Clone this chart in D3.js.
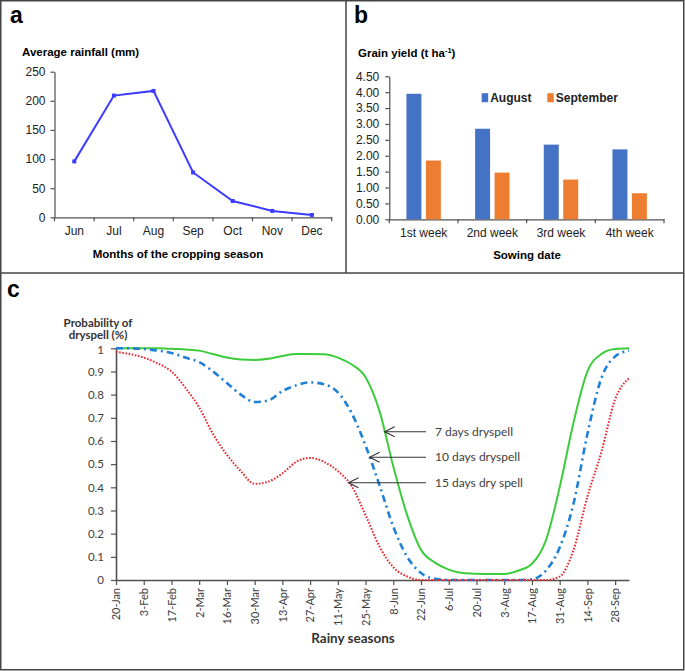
<!DOCTYPE html>
<html>
<head>
<meta charset="utf-8">
<script src="https://cdn.jsdelivr.net/npm/d3@7"></script>
<style>
  body { margin: 0; background: #fff; }
  svg { display: block; }
</style>
</head>
<body>
<div id="chart"></div>
<script>
// a: rainfall per month
const months = ["Jun", "Jul", "Aug", "Sep", "Oct", "Nov", "Dec"];
const rainfall = [96, 209, 217, 77, 28, 11, 4];

// b: grain yield by sowing week
const weeks = ["1st week", "2nd week", "3rd week", "4th week"];
const sowingMonths = ["August", "September"];
const yieldAugust = [3.95, 2.85, 2.35, 2.2];
const yieldSeptember = [1.85, 1.47, 1.25, 0.82];

// c: dry spell probability, weekly readings
const seasonDates = ["2020-01-20", "2020-01-27", "2020-02-03", "2020-02-10", "2020-02-17", "2020-02-24",
  "2020-03-02", "2020-03-09", "2020-03-16", "2020-03-23", "2020-03-30", "2020-04-06", "2020-04-13",
  "2020-04-20", "2020-04-27", "2020-05-04", "2020-05-11", "2020-05-18", "2020-05-25", "2020-06-01",
  "2020-06-08", "2020-06-15", "2020-06-22", "2020-06-29", "2020-07-06", "2020-07-13", "2020-07-20",
  "2020-07-27", "2020-08-03", "2020-08-10", "2020-08-17", "2020-08-24", "2020-08-31", "2020-09-07",
  "2020-09-14", "2020-09-21", "2020-09-28", "2020-10-05"];
const dry7 = [1.0, 1.0, 1.0, 1.0, 0.998, 0.995, 0.99, 0.975, 0.96, 0.952, 0.95, 0.955, 0.967, 0.975,
  0.975, 0.974, 0.96, 0.93, 0.875, 0.73, 0.49, 0.28, 0.13, 0.075, 0.045, 0.03, 0.027, 0.026, 0.026,
  0.04, 0.07, 0.17, 0.4, 0.68, 0.9, 0.975, 0.997, 1.0];
const dry10 = [1.0, 1.0, 0.997, 0.99, 0.98, 0.96, 0.94, 0.9, 0.85, 0.8, 0.768, 0.775, 0.815, 0.84,
  0.853, 0.845, 0.81, 0.72, 0.58, 0.41, 0.23, 0.1, 0.03, 0.005, 0, 0, 0, 0, 0, 0, 0.003, 0.04, 0.14,
  0.33, 0.63, 0.87, 0.965, 0.99];
const dry15 = [0.985, 0.975, 0.96, 0.935, 0.9, 0.83, 0.745, 0.63, 0.54, 0.47, 0.415, 0.425, 0.46,
  0.51, 0.527, 0.51, 0.47, 0.405, 0.28, 0.145, 0.055, 0.015, 0, 0, 0, 0, 0, 0, 0, 0, 0, 0, 0.015,
  0.13, 0.36, 0.55, 0.78, 0.87];
const spellLabels = ["7 days dryspell", "10 days dryspell", "15 days dry spell"];
const arrowLevels = [0.64, 0.53, 0.42];

const width = 685, height = 671;
const arial = "'Liberation Sans', Arial, sans-serif";
const calib = "Lato, 'Open Sans', sans-serif";
const axisCol = "#505050";

const svg = d3.select("#chart").append("svg")
  .attr("width", width)
  .attr("height", height);

// frame + dividers
svg.append("rect")
  .attr("x", 0.75).attr("y", 0.75)
  .attr("width", 683).attr("height", 669)
  .attr("fill", "none").attr("stroke", "#444").attr("stroke-width", 1.5);
svg.append("line").attr("x1", 346).attr("x2", 346).attr("y1", 0).attr("y2", 273)
  .attr("stroke", "#444").attr("stroke-width", 1.5);
svg.append("line").attr("x1", 0).attr("x2", 684).attr("y1", 273).attr("y2", 273)
  .attr("stroke", "#444").attr("stroke-width", 1.5);

function styleAxis(g, font, size, col) {
  g.select(".domain").attr("stroke", axisCol).attr("stroke-width", 1.2);
  g.selectAll(".tick line").attr("stroke", axisCol).attr("stroke-width", 1.2);
  g.selectAll("text").attr("font-family", font).attr("font-size", size).attr("fill", col);
}

// ---------- panel a ----------
const xa = d3.scaleBand().domain(months).range([54.5, 331.7]);
const ya = d3.scaleLinear().domain([0, 250]).range([217.3, 71.7]);

svg.append("text").attr("x", 10).attr("y", 23).text("a")
  .attr("font-family", arial).attr("font-weight", "bold").attr("font-size", 23);
svg.append("text").attr("x", 22).attr("y", 56).text("Average rainfall (mm)")
  .attr("font-family", arial).attr("font-weight", "bold").attr("font-size", 11.5);

const gya = svg.append("g").attr("transform", "translate(54.5,0)")
  .call(d3.axisLeft(ya).tickValues(d3.range(0, 251, 50)).tickSize(4).tickSizeOuter(0).tickPadding(5));
styleAxis(gya, arial, 12, "#222");

const gxa = svg.append("g").attr("transform", "translate(0,217.3)")
  .call(d3.axisBottom(xa).tickSize(0).tickPadding(9));
styleAxis(gxa, arial, 12, "#222");
gxa.selectAll(".edge")
  .data(months.map(m => xa(m)).concat(xa.range()[1]))
  .join("line").attr("class", "edge")
  .attr("x1", d => d).attr("x2", d => d).attr("y1", 0).attr("y2", 4)
  .attr("stroke", axisCol).attr("stroke-width", 1.2);

const lineA = d3.line()
  .x((d, i) => xa(months[i]) + xa.bandwidth() / 2)
  .y(d => ya(d));
svg.append("path").datum(rainfall)
  .attr("d", lineA)
  .attr("fill", "none").attr("stroke", "#3b3bff").attr("stroke-width", 2);
svg.append("g").selectAll("rect")
  .data(rainfall)
  .join("rect")
  .attr("x", (d, i) => xa(months[i]) + xa.bandwidth() / 2 - 2)
  .attr("y", d => ya(d) - 2)
  .attr("width", 4).attr("height", 4)
  .attr("fill", "#3b3bff");

svg.append("text").attr("x", 178).attr("y", 258).attr("text-anchor", "middle")
  .text("Months of the cropping season")
  .attr("font-family", arial).attr("font-weight", "bold").attr("font-size", 11.5);

// ---------- panel b ----------
const xb = d3.scaleBand().domain(weeks).range([389.3, 664]);
const xb1 = d3.scaleBand().domain(sowingMonths).range([0, xb.bandwidth()])
  .paddingInner(0.23).paddingOuter(0.88);
const yb = d3.scaleLinear().domain([0, 4.5]).range([219.3, 76.3]);
const barCol = d3.scaleOrdinal().domain(sowingMonths).range(["#4472c4", "#ed7d31"]);

svg.append("text").attr("x", 354).attr("y", 23).text("b")
  .attr("font-family", arial).attr("font-weight", "bold").attr("font-size", 23);
const tb = svg.append("text").attr("x", 358).attr("y", 57)
  .attr("font-family", arial).attr("font-weight", "bold").attr("font-size", 11.5);
tb.append("tspan").text("Grain yield (t ha");
tb.append("tspan").text("-1").attr("font-size", 7.5).attr("dy", -4);
tb.append("tspan").text(")").attr("dy", 4);

const gyb = svg.append("g").attr("transform", "translate(389.3,0)")
  .call(d3.axisLeft(yb).tickValues(d3.range(0, 4.51, 0.5)).tickFormat(d3.format(".2f"))
    .tickSize(4).tickSizeOuter(0).tickPadding(6));
styleAxis(gyb, arial, 12, "#222");

const gxb = svg.append("g").attr("transform", "translate(0,219.3)")
  .call(d3.axisBottom(xb).tickSize(0).tickPadding(9));
styleAxis(gxb, arial, 12, "#222");
gxb.selectAll(".edge")
  .data(weeks.map(w => xb(w)).concat(xb.range()[1]))
  .join("line").attr("class", "edge")
  .attr("x1", d => d).attr("x2", d => d).attr("y1", 0).attr("y2", 4)
  .attr("stroke", axisCol).attr("stroke-width", 1.2);

const barRows = weeks.map((w, i) => ({ week: w, values: [yieldAugust[i], yieldSeptember[i]] }));
svg.append("g").selectAll("g")
  .data(barRows)
  .join("g")
  .attr("transform", d => `translate(${xb(d.week)},0)`)
  .selectAll("rect")
  .data(d => d.values.map((v, j) => ({ m: sowingMonths[j], v })))
  .join("rect")
  .attr("x", d => xb1(d.m))
  .attr("width", xb1.bandwidth())
  .attr("y", d => yb(d.v))
  .attr("height", d => yb(0) - yb(d.v))
  .attr("fill", d => barCol(d.m));

const legB = svg.append("g").selectAll("g")
  .data(sowingMonths)
  .join("g")
  .attr("transform", (d, i) => `translate(${[481.7, 547.3][i]},97.7)`);
legB.append("rect").attr("x", 0).attr("y", -4.5).attr("width", 6.5).attr("height", 9)
  .attr("fill", d => barCol(d));
legB.append("text").attr("x", 8.5).attr("y", 4.3).text(d => d)
  .attr("font-family", arial).attr("font-weight", "bold").attr("font-size", 12).attr("fill", "#222");

svg.append("text").attr("x", 527).attr("y", 259).attr("text-anchor", "middle")
  .text("Sowing date")
  .attr("font-family", arial).attr("font-weight", "bold").attr("font-size", 11.5);

// ---------- panel c ----------
const parseDate = d3.timeParse("%Y-%m-%d");
const datesC = seasonDates.map(parseDate);
const xc = d3.scaleTime().domain([datesC[0], datesC[datesC.length - 1]]).range([116, 629]);
const yc = d3.scaleLinear().domain([0, 1]).range([580, 348.3]);

svg.append("text").attr("x", 7).attr("y", 297).text("c")
  .attr("font-family", arial).attr("font-weight", "bold").attr("font-size", 23);
svg.append("text").attr("x", 98).attr("y", 327).attr("text-anchor", "middle").text("Probability of")
  .attr("font-family", calib).attr("font-weight", "bold").attr("font-size", 11.5).attr("fill", "#333");
svg.append("text").attr("x", 98).attr("y", 339).attr("text-anchor", "middle").text("dryspell (%)")
  .attr("font-family", calib).attr("font-weight", "bold").attr("font-size", 11.5).attr("fill", "#333");

const gyc = svg.append("g").attr("transform", "translate(116,0)")
  .call(d3.axisLeft(yc).ticks(10).tickFormat(d => (d === 0 || d === 1) ? d : d.toFixed(1))
    .tickSize(5).tickSizeOuter(0).tickPadding(7));
styleAxis(gyc, calib, 11.5, "#404040");
gyc.select(".domain").attr("stroke-width", 1.6);
gyc.selectAll(".tick text").filter(d => d === 1).attr("dy", "0.45em");

const gxc = svg.append("g").attr("transform", "translate(0,580)")
  .call(d3.axisBottom(xc).tickValues(datesC.filter((d, i) => i % 2 === 0 && i < 37))
    .tickFormat(d3.timeFormat("%-d-%b")).tickSize(5).tickSizeOuter(0));
styleAxis(gxc, calib, 11, "#404040");
gxc.select(".domain").attr("stroke-width", 1.6);
gxc.selectAll(".tick text")
  .attr("transform", "rotate(-90)")
  .attr("text-anchor", "end")
  .attr("x", -8).attr("y", 0).attr("dy", "0.35em");

svg.append("text").attr("x", 353).attr("y", 642.5).attr("text-anchor", "middle").text("Rainy seasons")
  .attr("font-family", calib).attr("font-weight", "bold").attr("font-size", 13.5).attr("fill", "#333");

const lineC = d3.line()
  .x((d, i) => xc(datesC[i]))
  .y(d => yc(d))
  .curve(d3.curveMonotoneX);

const series = [
  { values: dry7, color: "#3ccc3c", width: 2, dash: null },
  { values: dry10, color: "#1f80d6", width: 2.6, dash: "7,4,2,4" },
  { values: dry15, color: "#e8262b", width: 2, dash: "1.6,1.6" }
];
svg.append("g").selectAll("path")
  .data(series)
  .join("path")
  .attr("d", d => lineC(d.values))
  .attr("fill", "none")
  .attr("stroke", d => d.color)
  .attr("stroke-width", d => d.width)
  .attr("stroke-dasharray", d => d.dash);

// arrows point where each curve falls through the label level
function crossX(values, level) {
  for (let i = 14; i < values.length - 1; i++) {
    if (values[i] >= level && values[i + 1] < level) {
      const t = (values[i] - level) / (values[i] - values[i + 1]);
      return xc(datesC[i]) + t * (xc(datesC[i + 1]) - xc(datesC[i]));
    }
  }
  return xc(datesC[14]);
}
const notes = series.map((s, i) => ({ label: spellLabels[i], level: arrowLevels[i], tip: crossX(s.values, arrowLevels[i]) }));
const gn = svg.append("g").selectAll("g")
  .data(notes)
  .join("g")
  .attr("transform", d => `translate(0,${yc(d.level)})`);
gn.append("line").attr("x1", d => d.tip).attr("x2", 426).attr("y1", 0).attr("y2", 0)
  .attr("stroke", "#333").attr("stroke-width", 1.1);
gn.append("path")
  .attr("d", d => `M${d.tip + 10},-5L${d.tip},0L${d.tip + 10},5`)
  .attr("fill", "none").attr("stroke", "#333").attr("stroke-width", 1.1);
gn.append("text").attr("x", 435).attr("y", 4.2).text(d => d.label)
  .attr("font-family", calib).attr("font-size", 12).attr("fill", "#404040");
</script>
</body>
</html>
